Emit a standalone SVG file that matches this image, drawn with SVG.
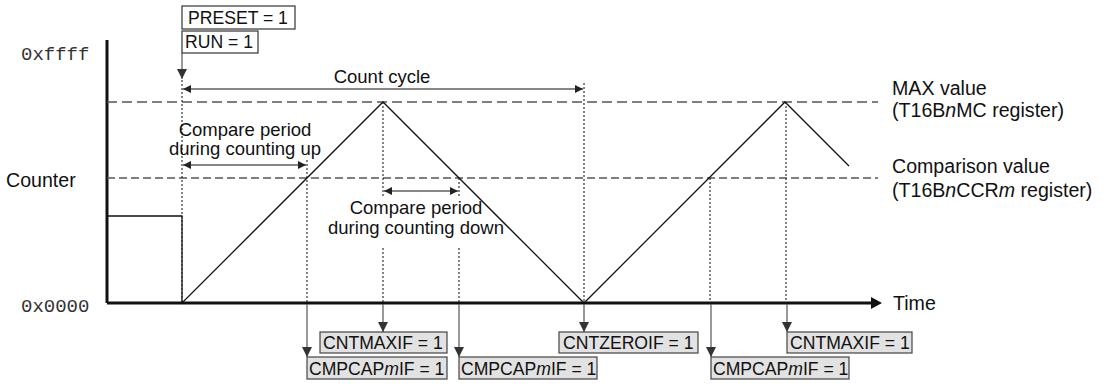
<svg xmlns="http://www.w3.org/2000/svg" width="1109" height="384" viewBox="0 0 1109 384">
<style>
text{font-family:"Liberation Sans",Arial,sans-serif;fill:#111}
.mono{font-family:"Liberation Mono","Courier New",monospace;fill:#333}
.lbl{font-size:18.5px}
.big{font-size:19.6px}
.box{font-size:17.6px}
.wave{fill:none;stroke:#111;stroke-width:1.3}
.dash1{stroke:#555;stroke-width:1.3;stroke-dasharray:10,5}
.dash2{stroke:#555;stroke-width:1.3;stroke-dasharray:8,4}
.dot{stroke:#222;stroke-width:1.1;stroke-dasharray:2,2}
.conn{stroke:#555;stroke-width:1.2;fill:none}
.dim{stroke:#111;stroke-width:1.2;fill:none}
.wbox{fill:#fff;stroke:#333;stroke-width:1.2}
.gbox{fill:#e2e2e2;stroke:#444;stroke-width:1.2}
.axis{stroke:#111;stroke-width:3;fill:none}
</style>
<defs>
<marker id="ah" viewBox="0 0 10 10" refX="10" refY="5" markerWidth="8" markerHeight="8" markerUnits="userSpaceOnUse" orient="auto-start-reverse">
<path d="M0,0 L10,5 L0,10 z" fill="#222"/>
</marker>
<marker id="ahb" viewBox="0 0 10 10" refX="10" refY="5" markerWidth="10" markerHeight="10" markerUnits="userSpaceOnUse" orient="auto">
<path d="M0,0 L10,5 L0,10 z" fill="#333"/>
</marker>
</defs>

<!-- axes and axis labels -->
<g id="axes">
<line class="axis" x1="107" y1="40" x2="107" y2="303"/>
<line class="axis" x1="107" y1="303" x2="874" y2="303"/>
<path d="M871,297 L882,303 L871,309 z" fill="#111"/>
<text class="mono" x="21" y="60" font-size="19">0xffff</text>
<text class="mono" x="21" y="312" font-size="19">0x0000</text>
<text class="big" x="6" y="187" font-size="20">Counter</text>
<text class="big" x="893" y="310">Time</text>
</g>

<!-- reference levels -->
<g id="levels">
<line class="dash1" x1="107" y1="102" x2="878" y2="102"/>
<line class="dash2" x1="107" y1="178" x2="878" y2="178"/>
<text class="big" x="892" y="95">MAX value</text>
<text class="big" x="892" y="117">(T16B<tspan font-style="italic">n</tspan>MC register)</text>
<text class="big" x="892" y="173">Comparison value</text>
<text class="big" x="892" y="197">(T16B<tspan font-style="italic">n</tspan>CCR<tspan font-style="italic">m</tspan> register)</text>
</g>

<!-- counter waveform -->
<g id="waveform">
<polyline class="wave" points="107,216 182,216 182,303 383,102 584,303 785,102 849,166"/>
</g>

<!-- dotted guides -->
<g id="guides">
<line class="dot" x1="182" y1="80" x2="182" y2="303"/>
<line class="dot" x1="307" y1="160" x2="307" y2="303"/>
<line class="dot" x1="383" y1="102" x2="383" y2="196"/>
<line class="dot" x1="383" y1="248" x2="383" y2="303"/>
<line class="dot" x1="459" y1="178" x2="459" y2="196"/>
<line class="dot" x1="459" y1="248" x2="459" y2="303"/>
<line class="dot" x1="584" y1="83" x2="584" y2="303"/>
<line class="dot" x1="710" y1="178" x2="710" y2="303"/>
<line class="dot" x1="786" y1="102" x2="786" y2="303"/>
</g>

<!-- dimension arrows -->
<g id="dimensions">
<line class="dim" x1="183" y1="89" x2="583" y2="89" marker-start="url(#ah)" marker-end="url(#ah)"/>
<text class="lbl" x="382" y="83" text-anchor="middle">Count cycle</text>
<line class="dim" x1="183" y1="165" x2="306" y2="165" marker-start="url(#ah)" marker-end="url(#ah)"/>
<text class="lbl" x="245" y="136" text-anchor="middle">Compare period</text>
<text class="lbl" x="245" y="155" text-anchor="middle">during counting up</text>
<line class="dim" x1="384" y1="191" x2="458" y2="191" marker-start="url(#ah)" marker-end="url(#ah)"/>
<text class="lbl" x="416" y="214" text-anchor="middle">Compare period</text>
<text class="lbl" x="416" y="234" text-anchor="middle">during counting down</text>
</g>

<!-- top control boxes -->
<g id="node-preset">
<rect class="wbox" x="182" y="6" width="113" height="23"/>
<text class="box" x="188" y="24">PRESET = 1</text>
</g>
<g id="node-run">
<rect class="wbox" x="182" y="31" width="76" height="22"/>
<text class="box" x="185" y="48">RUN = 1</text>
</g>

<!-- flag boxes -->
<g id="node-cntmaxif-1">
<rect class="gbox" x="320" y="332" width="127" height="21"/>
<text class="box" x="323" y="349">CNTMAXIF = 1</text>
</g>
<g id="node-cmpcap-1">
<rect class="gbox" x="307" y="357" width="140" height="22"/>
<text class="box" x="309" y="375">CMPCAP<tspan font-style="italic">m</tspan>IF = 1</text>
</g>
<g id="node-cmpcap-2">
<rect class="gbox" x="459" y="357" width="138" height="22"/>
<text class="box" x="461" y="375">CMPCAP<tspan font-style="italic">m</tspan>IF = 1</text>
</g>
<g id="node-cntzeroif">
<rect class="gbox" x="559" y="332" width="139" height="21"/>
<text class="box" x="563" y="349">CNTZEROIF = 1</text>
</g>
<g id="node-cmpcap-3">
<rect class="gbox" x="711" y="357" width="138" height="22"/>
<text class="box" x="713" y="375">CMPCAP<tspan font-style="italic">m</tspan>IF = 1</text>
</g>
<g id="node-cntmaxif-2">
<rect class="gbox" x="787" y="332" width="125" height="21"/>
<text class="box" x="790" y="349">CNTMAXIF = 1</text>
</g>

<!-- connectors -->
<g id="connectors">
<line class="conn" x1="182" y1="53" x2="182" y2="79" stroke="#333" marker-end="url(#ahb)"/>
<line class="conn" x1="307" y1="304" x2="307" y2="357" marker-end="url(#ahb)"/>
<line class="conn" x1="383" y1="304" x2="383" y2="332" marker-end="url(#ahb)"/>
<line class="conn" x1="459" y1="304" x2="459" y2="357" marker-end="url(#ahb)"/>
<line class="conn" x1="584" y1="304" x2="584" y2="332" marker-end="url(#ahb)"/>
<line class="conn" x1="711" y1="304" x2="711" y2="357" marker-end="url(#ahb)"/>
<line class="conn" x1="787" y1="304" x2="787" y2="332" marker-end="url(#ahb)"/>
</g>
</svg>
